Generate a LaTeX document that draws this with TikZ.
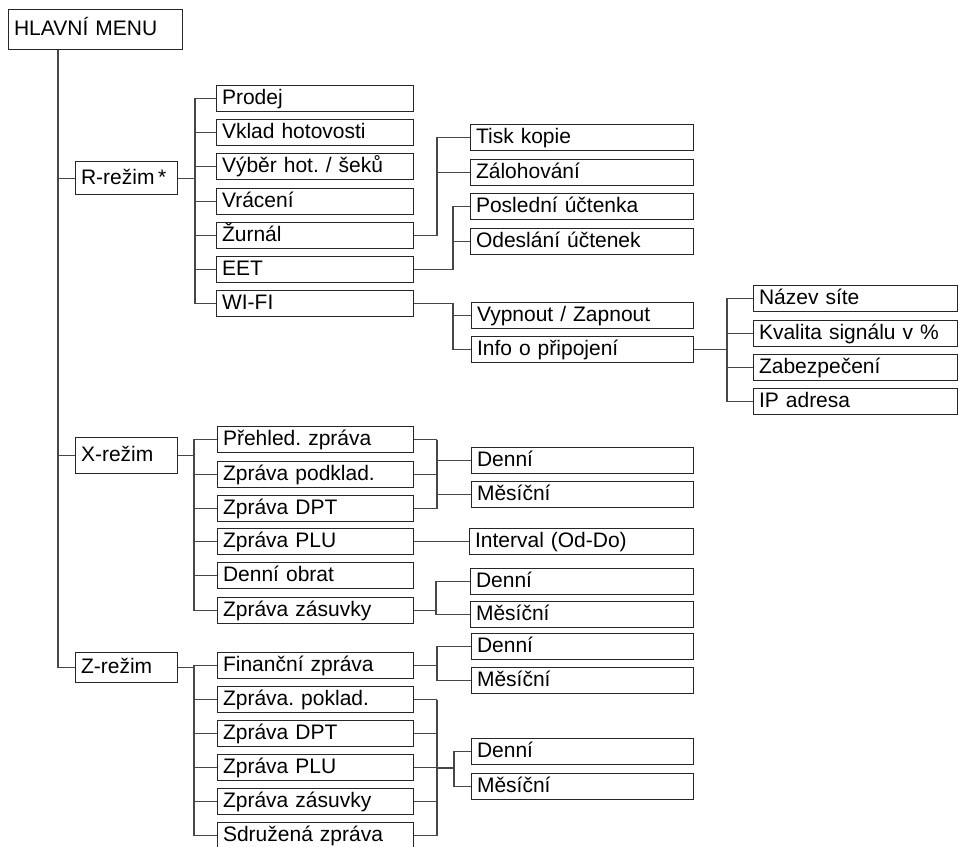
\documentclass[tikz,border=0pt]{standalone}
\usepackage{fontspec}
\setmainfont{Liberation Sans}
\frenchspacing
\begin{document}
\begin{tikzpicture}[x=1pt,y=-1pt]
\tikzset{
  bx/.style={draw=black!85, line width=1.1pt, fill=white, anchor=north west,
    inner xsep=5.5pt, inner ysep=0pt, text height=17pt, text depth=5pt,
    align=left, font=\fontsize{21}{24}\selectfont},
  conn/.style={draw=black!72, line width=1.1pt},
}
\newcommand\Bx[6]{%
  \pgfmathsetmacro\bxw{#4-#2-11}\pgfmathsetmacro\bxh{#5-#3}%
  \node[bx, text width=\bxw pt, minimum height=\bxh pt] (#1) at (#2,#3) {#6};}
\useasboundingbox (0,0) rectangle (958,846);
% bus coordinates
\coordinate (bM) at (58,0);
\coordinate (bR) at (195,0);
\coordinate (bJ) at (437,0);
\coordinate (bE) at (453,0);
\coordinate (bW) at (453,0);
\coordinate (bI) at (727,0);
\coordinate (bX) at (194,0);
\coordinate (bXA) at (437,0);
\coordinate (bXZ) at (436,0);
\coordinate (bZ) at (194,0);
\coordinate (bZF) at (437,0);
\coordinate (bZA) at (437,0);
\coordinate (bZB) at (454,0);
\coordinate (zj) at (0,768);
% boxes
\Bx{menu}{8}{9}{182}{49}{HLAVNÍ MENU}
\Bx{R}{75}{161}{177}{194}{R-režim\,*}
\Bx{X}{75}{437}{177}{473}{X-režim}
\Bx{Z}{75}{652}{177}{682}{Z-režim}
% R children
\Bx{Prodej}{216}{85}{413}{111}{Prodej}
\Bx{Vklad}{216}{119}{413}{145}{Vklad hotovosti}
\Bx{Vyber}{216}{153}{413}{179}{Výběr hot. / šeků}
\Bx{Vraceni}{216}{188}{413}{214}{Vrácení}
\Bx{Zurnal}{216}{222}{413}{248}{Žurnál}
\Bx{EET}{216}{256}{413}{282}{EET}
\Bx{WIFI}{216}{290}{413}{316}{WI-FI}
\Bx{Tisk}{470}{124}{693}{150}{Tisk kopie}
\Bx{Zaloh}{470}{159}{693}{185}{Zálohování}
\Bx{Posl}{470}{193}{693}{219}{Poslední účtenka}
\Bx{Odesl}{470}{228}{693}{254}{Odeslání účtenek}
\Bx{Vypn}{471}{302}{693}{328}{Vypnout / Zapnout}
\Bx{Info}{471}{336}{693}{362}{Info o připojení}
\Bx{Nazev}{753}{285}{957}{311}{Název síte}
\Bx{Kval}{753}{320}{957}{346}{Kvalita signálu v \%}
\Bx{Zabez}{753}{354}{957}{380}{Zabezpečení}
\Bx{IP}{753}{388}{957}{414}{IP adresa}
% X children
\Bx{XPre}{217}{426}{413}{452}{Přehled. zpráva}
\Bx{XPod}{217}{461}{413}{487}{Zpráva podklad.}
\Bx{XDPT}{217}{495}{413}{521}{Zpráva DPT}
\Bx{XPLU}{217}{528}{413}{554}{Zpráva PLU}
\Bx{XObr}{217}{562}{413}{588}{Denní obrat}
\Bx{XZas}{217}{597}{413}{623}{Zpráva zásuvky}
\Bx{XDen}{471}{447}{693}{473}{Denní}
\Bx{XMes}{471}{481}{693}{507}{Měsíční}
\Bx{XInt}{469}{528}{693}{554}{Interval (Od-Do)}
\Bx{XzDen}{470}{568}{693}{594}{Denní}
\Bx{XzMes}{470}{601}{693}{627}{Měsíční}
% Z children
\Bx{ZFin}{217}{652}{413}{678}{Finanční zpráva}
\Bx{ZPok}{217}{686}{413}{712}{Zpráva. poklad.}
\Bx{ZDPT}{217}{720}{413}{746}{Zpráva DPT}
\Bx{ZPLU}{217}{754}{413}{780}{Zpráva PLU}
\Bx{ZZas}{217}{788}{413}{814}{Zpráva zásuvky}
\Bx{ZSdr}{217}{822}{413}{848}{Sdružená zpráva}
\Bx{ZFDen}{471}{633}{693}{659}{Denní}
\Bx{ZFMes}{471}{667}{693}{693}{Měsíční}
\Bx{ZDen}{471}{738}{693}{764}{Denní}
\Bx{ZMes}{471}{773}{693}{799}{Měsíční}
% ---- connectors
% main
\draw[conn] (bM |- menu.south) |- (Z.west);
\draw[conn] (bM |- R.west) -- (R.west);
\draw[conn] (bM |- X.west) -- (X.west);
% R
\foreach \c in {Prodej,Vklad,Vyber,Vraceni,Zurnal,EET,WIFI}
  \draw[conn] (R.east) -| (bR |- \c.west) -- (\c.west);
\foreach \c in {Tisk,Zaloh}
  \draw[conn] (Zurnal.east) -| (bJ |- \c.west) -- (\c.west);
\foreach \c in {Posl,Odesl}
  \draw[conn] (EET.east) -| (bE |- \c.west) -- (\c.west);
\foreach \c in {Vypn,Info}
  \draw[conn] (WIFI.east) -| (bW |- \c.west) -- (\c.west);
\foreach \c in {Nazev,Kval,Zabez,IP}
  \draw[conn] (Info.east) -| (bI |- \c.west) -- (\c.west);
% X
\foreach \c in {XPre,XPod,XDPT,XPLU,XObr,XZas}
  \draw[conn] (X.east) -| (bX |- \c.west) -- (\c.west);
\foreach \p in {XPre,XPod,XDPT}
  \draw[conn] (\p.east) -- (bXA |- \p.east);
\draw[conn] (bXA |- XPre.east) -- (bXA |- XDPT.east);
\foreach \c in {XDen,XMes}
  \draw[conn] (bXA |- \c.west) -- (\c.west);
\draw[conn] (XPLU.east) -- (XInt.west);
\foreach \c in {XzDen,XzMes}
  \draw[conn] (XZas.east) -| (bXZ |- \c.west) -- (\c.west);
% Z
\foreach \c in {ZFin,ZPok,ZDPT,ZPLU,ZZas,ZSdr}
  \draw[conn] (Z.east) -| (bZ |- \c.west) -- (\c.west);
\foreach \c in {ZFDen,ZFMes}
  \draw[conn] (ZFin.east) -| (bZF |- \c.west) -- (\c.west);
\foreach \p in {ZPok,ZDPT,ZPLU,ZZas,ZSdr}
  \draw[conn] (\p.east) -- (bZA |- \p.east);
\draw[conn] (bZA |- ZPok.east) -- (bZA |- ZSdr.east);
\foreach \c in {ZDen,ZMes}
  \draw[conn] (bZA |- zj) -| (bZB |- \c.west) -- (\c.west);
\end{tikzpicture}
\end{document}
